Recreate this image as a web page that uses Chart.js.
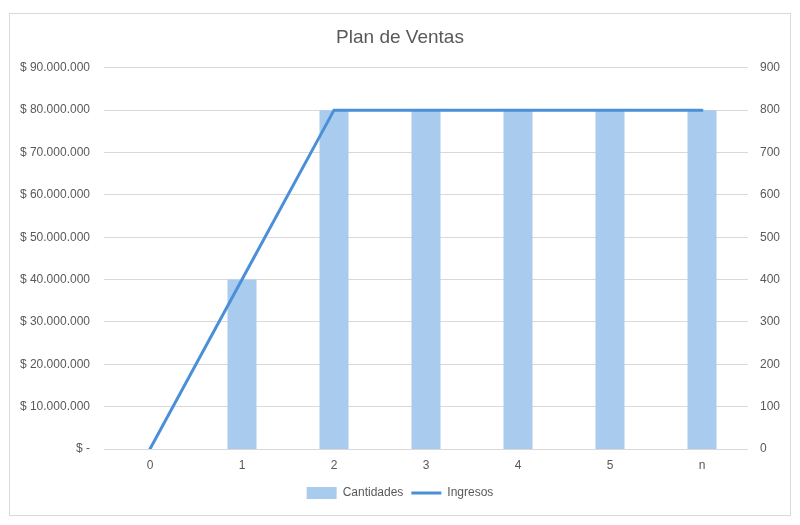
<!DOCTYPE html>
<html>
<head>
<meta charset="utf-8">
<script src="https://cdn.jsdelivr.net/npm/chart.js@4"></script>
<style>
  html, body { margin: 0; padding: 0; background: #ffffff; }
  #frame {
    position: absolute; left: 9px; top: 13px;
    width: 782px; height: 503px;
    box-sizing: border-box; border: 1px solid #d9d9d9;
  }
  canvas { display: block; }
</style>
</head>
<body>
<div id="frame"><canvas id="chart" width="780" height="501"></canvas></div>
<script>
const categories = ['0', '1', '2', '3', '4', '5', 'n'];
const cantidades = [0, 400, 800, 800, 800, 800, 800];
const ingresos = [0, 40000000, 80000000, 80000000, 80000000, 80000000, 80000000];

const FONT = '"Liberation Sans Narrow", "Arial Narrow", "Liberation Sans", sans-serif';
const TEXT = '#595959';

function money(v) {
    if (v === 0) return '$ -';
    return '$ ' + Math.round(v).toString().replace(/\B(?=(\d{3})+(?!\d))/g, '.');
}

const ctx = document.getElementById('chart').getContext('2d');
new Chart(ctx, {
    data: {
        labels: categories,
        datasets: [
            {
                type: 'bar',
                label: 'Cantidades',
                data: cantidades,
                yAxisID: 'y1',
                backgroundColor: '#a9cbee',
                categoryPercentage: 1,
                barPercentage: 0.315,
                order: 1
            },
            {
                type: 'line',
                label: 'Ingresos',
                data: ingresos,
                yAxisID: 'y',
                borderColor: '#4a8fd8',
                backgroundColor: '#4a8fd8',
                borderWidth: 3,
                borderCapStyle: 'round',
                pointRadius: 0,
                tension: 0,
                order: 0
            }
        ]
    },
    options: {
        responsive: false,
        animation: false,
        layout: { padding: { left: 0, right: 0, top: 0, bottom: 6 } },
        plugins: {
            title: {
                display: true,
                text: 'Plan de Ventas',
                color: TEXT,
                font: { family: FONT, size: 19, weight: 'normal' },
                padding: { top: 12, bottom: 19 }
            },
            legend: {
                position: 'bottom',
                labels: {
                    color: TEXT,
                    font: { family: FONT, size: 12 },
                    usePointStyle: true,
                    pointStyleWidth: 30,
                    boxHeight: 12,
                    padding: 8,
                    sort: (a, b) => a.datasetIndex - b.datasetIndex,
                    generateLabels(chart) {
                        const items = Chart.defaults.plugins.legend.labels.generateLabels(chart);
                        items.forEach(it => {
                            const ds = chart.data.datasets[it.datasetIndex];
                            it.pointStyle = ds.type === 'line' ? 'line' : 'rect';
                            it.lineWidth = ds.type === 'line' ? 3 : 0;
                            it.strokeStyle = ds.type === 'line' ? ds.borderColor : ds.backgroundColor;
                        });
                        return items;
                    }
                }
            },
            tooltip: { enabled: false }
        },
        scales: {
            x: {
                grid: { display: false },
                border: { display: false },
                ticks: { color: TEXT, font: { family: FONT, size: 12 }, padding: 1 },
                afterFit(scale) { scale.height = 30; }
            },
            y: {
                position: 'left',
                min: 0,
                max: 90000000,
                ticks: {
                    stepSize: 10000000,
                    color: TEXT,
                    font: { family: FONT, size: 12 },
                    padding: 14,
                    callback: v => money(v)
                },
                grid: { color: '#d9d9d9', lineWidth: 1, drawTicks: false },
                border: { display: false },
                afterFit(scale) { scale.width = 94; }
            },
            y1: {
                position: 'right',
                min: 0,
                max: 900,
                ticks: {
                    stepSize: 100,
                    color: TEXT,
                    font: { family: FONT, size: 12 },
                    padding: 12
                },
                grid: { display: false, drawTicks: false },
                border: { display: false },
                afterFit(scale) { scale.width = 42; }
            }
        }
    }
});
</script>
</body>
</html>
